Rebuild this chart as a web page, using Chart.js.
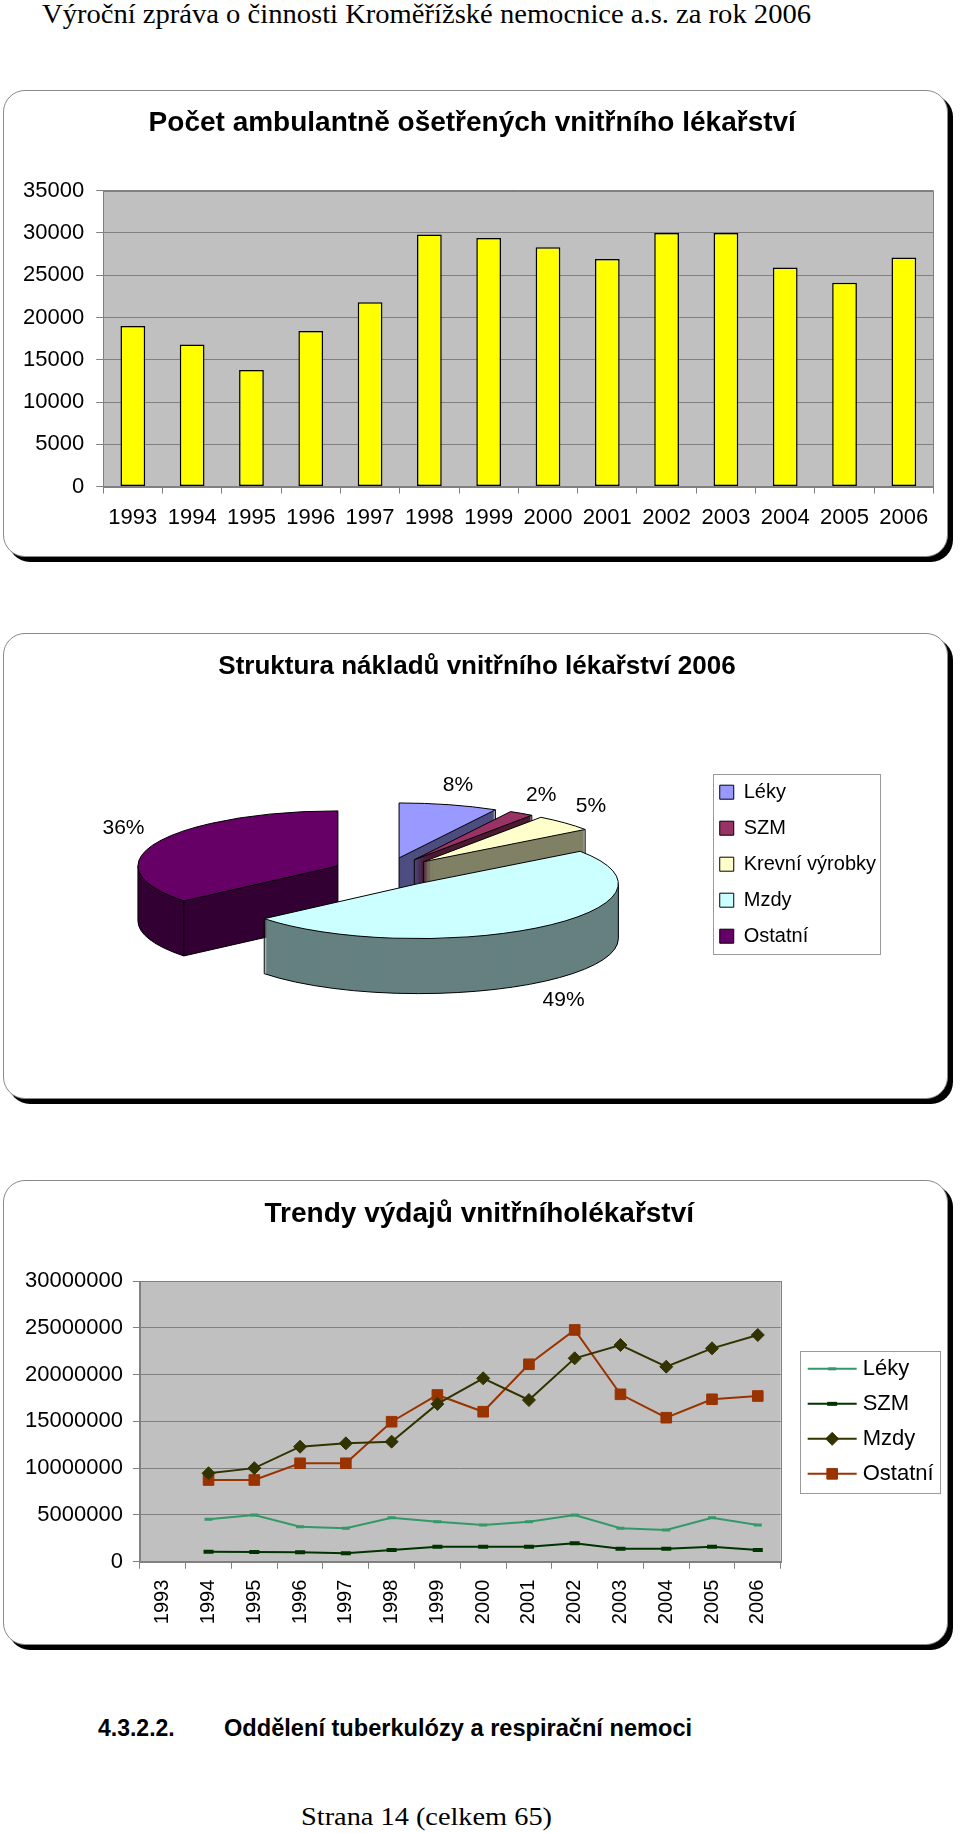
<!DOCTYPE html>
<html lang="cs">
<head>
<meta charset="utf-8">
<title>Vnitřní lékařství 2006</title>
<script src="https://cdn.jsdelivr.net/npm/chart.js@4.4.1/dist/chart.umd.min.js"></script>
<style>
  html, body { margin: 0; padding: 0; background: #fff; }
  body { position: relative; width: 960px; height: 1833px; overflow: hidden; }
  .txt { position: absolute; white-space: nowrap; line-height: 1; color: #000; transform-origin: 0 0; }
  .serif { font-family: "Liberation Serif", "Times New Roman", serif; }
  .bold { font-family: "Liberation Sans", Arial, sans-serif; font-weight: bold; }
  .panel { position: absolute; left: 3px; width: 943px; background: #fff;
           border: 1px solid #8a8a8a; border-radius: 22px; box-shadow: 5px 5px 0 #000; }
  .panel canvas { position: absolute; left: 0; top: 0; }
</style>
</head>
<body>
<div class="txt serif" data-fit="769" style="left:42px; top:1px; font-size:27px;">Výroční zpráva o činnosti Kroměřížské nemocnice a.s. za rok 2006</div>

<div class="panel" style="top:90px; height:465px;"><canvas id="visitsChart" width="943" height="465"></canvas></div>
<div class="panel" style="top:633px; height:464px;"><canvas id="costChart" width="943" height="464"></canvas></div>
<div class="panel" style="top:1180px; height:463px;"><canvas id="trendChart" width="943" height="463"></canvas></div>

<div class="txt bold" style="left:98px; top:1717px; font-size:23px;">4.3.2.2.</div>
<div class="txt bold" style="left:224px; top:1717px; font-size:23.6px;">Oddělení tuberkulózy a respirační nemoci</div>
<div class="txt serif" data-fit="251" style="left:301px; top:1804px; font-size:26px;">Strana 14 (celkem 65)</div>

<script>
// --- data ---
const years = ['1993', '1994', '1995', '1996', '1997', '1998', '1999',
               '2000', '2001', '2002', '2003', '2004', '2005', '2006'];

// patients treated (ambulance), per year
const patientCounts = [19000, 16800, 13800, 18400, 21800, 29800, 29400,
                       28300, 26900, 30000, 30000, 25900, 24100, 27100];

// cost structure 2006, percent
const costLabels = ['Léky', 'SZM', 'Krevní výrobky', 'Mzdy', 'Ostatní'];
const costShares = [8, 2, 5, 49, 36];

// expense trends (no value for 1993)
const trendLeky    = [null, 4530000, 4990000, 3740000, 3570000, 4700000, 4280000,
                      3920000, 4280000, 4990000, 3570000, 3390000, 4700000, 3920000];
const trendSzm     = [null, 1070000, 1040000, 1000000, 900000, 1250000, 1600000,
                      1600000, 1600000, 1970000, 1390000, 1390000, 1600000, 1250000];
const trendMzdy    = [null, 9450000, 10000000, 12290000, 12650000, 12830000, 16860000,
                      19600000, 17280000, 21740000, 23160000, 20840000, 22800000, 24230000];
const trendOstatni = [null, 8730000, 8730000, 10520000, 10520000, 14960000, 17820000,
                      16030000, 21100000, 24770000, 17890000, 15390000, 17360000, 17710000];

const SANS = '"Liberation Sans", Arial, sans-serif';
const gridGray = '#808080';
const plotGray = '#c0c0c0';

Chart.defaults.font.family = SANS;
Chart.defaults.color = '#000';

// grey plot area like the Excel charts
const plotArea = {
  id: 'plotArea',
  beforeDraw(chart, args, opts) {
    const { ctx, chartArea: a } = chart;
    ctx.save();
    ctx.fillStyle = opts.color;
    ctx.fillRect(a.left, a.top, a.width, a.height);
    ctx.strokeStyle = gridGray;
    ctx.lineWidth = 1;
    ctx.strokeRect(Math.round(a.left) + 0.5, Math.round(a.top) + 0.5,
                   Math.round(a.width), Math.round(a.height));
    ctx.restore();
  }
};

// frame round the legend, optional line+marker samples
const legendFrame = {
  id: 'legendFrame',
  afterDraw(chart, args, opts) {
    const lg = chart.legend;
    if (!lg || !lg.legendHitBoxes || !lg.legendHitBoxes.length) return;
    const hb = lg.legendHitBoxes;
    const ctx = chart.ctx;
    const first = hb[0], last = hb[hb.length - 1];
    let right = 0;
    hb.forEach(h => { right = Math.max(right, h.left + h.width); });
    const left = first.left - opts.padLeft;
    const top = first.top + first.height / 2 - opts.padTop;
    const bottom = last.top + last.height / 2 + opts.padBottom;
    ctx.save();
    ctx.strokeStyle = '#9a9a9a';
    ctx.lineWidth = 1;
    ctx.strokeRect(Math.round(left) + 0.5, Math.round(top) + 0.5,
                   Math.round(right + opts.padRight - left), Math.round(bottom - top));

    if (opts.samples) {
      hb.forEach((h, i) => {
        const ds = chart.data.datasets[i];
        const y = h.top + h.height / 2;
        const x0 = h.left + 14, x1 = h.left + 63;
        ctx.strokeStyle = ds.borderColor;
        ctx.lineWidth = ds.borderWidth;
        ctx.beginPath();
        ctx.moveTo(x0, y);
        ctx.lineTo(x1, y);
        ctx.stroke();
        ctx.fillStyle = ds.pointBackgroundColor;
        ctx.strokeStyle = ds.pointBorderColor;
        ctx.lineWidth = ds.pointBorderWidth;
        Chart.helpers.drawPoint(ctx, {
          pointStyle: ds.pointStyle, radius: ds.pointRadius,
          borderWidth: ds.pointBorderWidth, rotation: 0
        }, (x0 + x1) / 2, y);
      });
    }
    ctx.restore();
  }
};

// flat tilted pie with depth and exploded slices
const pie3d = {
  id: 'pie3d',
  beforeDatasetsDraw(chart, args, opts) {
    const meta = chart.getDatasetMeta(0);
    const ds = chart.data.datasets[0];
    const ctx = chart.ctx;
    const tilt = opts.tilt, depth = opts.depth;
    const arcs = meta.data.map((el, i) => {
      const p = el.getProps(['x', 'y', 'startAngle', 'endAngle', 'outerRadius'], true);
      const mid = (p.startAngle + p.endAngle) / 2;
      return { i, p, mid,
               cx: p.x + Math.cos(mid) * opts.explode,
               cy: p.y + Math.sin(mid) * opts.explode * tilt };
    });
    const order = arcs.slice().sort((a, b) => a.cy - b.cy);

    function wedge(a, dy) {
      ctx.beginPath();
      ctx.save();
      ctx.translate(a.cx, a.cy + dy);
      ctx.scale(1, tilt);
      ctx.moveTo(0, 0);
      ctx.arc(0, 0, a.p.outerRadius, a.p.startAngle, a.p.endAngle);
      ctx.closePath();
      ctx.restore();
    }
    function inside(a, ang) {
      let t = ang;
      while (t < a.p.startAngle) t += Math.PI * 2;
      return t <= a.p.endAngle;
    }
    function line(p, q) {
      ctx.beginPath();
      ctx.moveTo(p[0], p[1]);
      ctx.lineTo(q[0], q[1]);
      ctx.stroke();
    }

    ctx.save();
    ctx.lineWidth = 1;
    ctx.strokeStyle = '#000';
    ctx.lineJoin = 'round';
    order.forEach(a => {
      const s = a.p.startAngle, e = a.p.endAngle, r = a.p.outerRadius;
      const pt = (ang, dy) => [a.cx + Math.cos(ang) * r, a.cy + Math.sin(ang) * r * tilt + dy];

      ctx.fillStyle = opts.sideColors[a.i];
      for (let d = depth; d > 0; d--) { wedge(a, d); ctx.fill(); }

      // visible part of the lower rim
      for (let k = -1; k <= 1; k++) {
        const lo = Math.max(s, 2 * Math.PI * k), hi = Math.min(e, 2 * Math.PI * k + Math.PI);
        if (hi > lo) {
          ctx.beginPath();
          ctx.save();
          ctx.translate(a.cx, a.cy + depth);
          ctx.scale(1, tilt);
          ctx.arc(0, 0, r, lo, hi);
          ctx.restore();
          ctx.stroke();
        }
      }
      // cut faces turned to the viewer
      const startFace = Math.sin(s - Math.PI / 2) > 0.01;
      const endFace = Math.sin(e + Math.PI / 2) > 0.01;
      const c0 = [a.cx, a.cy], c1 = [a.cx, a.cy + depth];
      if (startFace) line(c1, pt(s, depth));
      if (endFace) line(c1, pt(e, depth));
      if (startFace || endFace) line(c0, c1);
      if (startFace || Math.sin(s) > 0) line(pt(s, 0), pt(s, depth));
      if (endFace || Math.sin(e) > 0) line(pt(e, 0), pt(e, depth));
      [0, Math.PI].forEach(ang => { if (inside(a, ang)) line(pt(ang, 0), pt(ang, depth)); });
    });
    order.forEach(a => {
      wedge(a, 0);
      ctx.fillStyle = ds.backgroundColor[a.i];
      ctx.fill();
      ctx.stroke();
    });
    ctx.restore();
    return false;
  },
  afterDraw(chart, args, opts) {
    const meta = chart.getDatasetMeta(0);
    const ds = chart.data.datasets[0];
    const ctx = chart.ctx;
    ctx.save();
    ctx.font = '21px ' + SANS;
    ctx.fillStyle = '#000';
    ctx.textAlign = 'center';
    ctx.textBaseline = 'middle';
    meta.data.forEach((el, i) => {
      const p = el.getProps(['x', 'y', 'startAngle', 'endAngle'], true);
      const mid = (p.startAngle + p.endAngle) / 2;
      const s = Math.sin(mid), c = Math.cos(mid);
      const x = p.x + c * opts.labelRadius;
      const y = p.y + s * opts.labelRadius * opts.tilt + (s > 0 ? opts.depth + 10 : -10);
      ctx.fillText(ds.data[i] + '%', x, y);
    });
    ctx.restore();
  }
};

// --- chart 1: patients ---
new Chart(document.getElementById('visitsChart'), {
  type: 'bar',
  data: {
    labels: years,
    datasets: [{
      data: patientCounts,
      backgroundColor: '#ffff00',
      borderColor: '#000',
      borderWidth: 1.5,
      borderSkipped: false,
      barPercentage: 0.417,
      categoryPercentage: 1
    }]
  },
  options: {
    responsive: false,
    animation: false,
    devicePixelRatio: 1,
    layout: { padding: { left: 7, right: 13.5, top: 0, bottom: 14 } },
    plugins: {
      legend: { display: false },
      tooltip: { enabled: false },
      title: {
        display: true,
        text: 'Počet ambulantně ošetřených vnitřního lékařství',
        color: '#000',
        font: { size: 28, weight: 'bold' },
        padding: { top: 15, bottom: 51 }
      },
      plotArea: { color: plotGray }
    },
    scales: {
      x: {
        grid: { drawOnChartArea: false, tickLength: 7, color: gridGray, offset: true },
        border: { color: gridGray },
        ticks: { font: { size: 22 }, padding: 11, maxRotation: 0, autoSkip: false }
      },
      y: {
        min: 0,
        max: 35000,
        grid: { color: gridGray, tickLength: 7 },
        border: { color: gridGray },
        ticks: { stepSize: 5000, font: { size: 22 }, padding: 12, callback: v => String(v) }
      }
    }
  },
  plugins: [plotArea]
});

// --- chart 2: cost structure ---
new Chart(document.getElementById('costChart'), {
  type: 'pie',
  data: {
    labels: costLabels,
    datasets: [{
      data: costShares,
      backgroundColor: ['#9999ff', '#993366', '#ffffcc', '#ccffff', '#660066'],
      borderColor: '#000',
      borderWidth: 1,
      radius: 200
    }]
  },
  options: {
    responsive: false,
    animation: false,
    devicePixelRatio: 1,
    layout: { padding: { left: 64, right: 61, top: 0, bottom: 120 } },
    plugins: {
      tooltip: { enabled: false },
      title: {
        display: true,
        text: 'Struktura nákladů vnitřního lékařství 2006',
        color: '#000',
        font: { size: 26, weight: 'bold' },
        padding: { top: 17, bottom: 84 }
      },
      legend: {
        position: 'right',
        align: 'start',
        fullSize: false,
        labels: { boxWidth: 14, boxHeight: 14, padding: 16, color: '#000', font: { size: 20 } }
      },
      legendFrame: { padLeft: 7, padRight: 4, padTop: 18.3, padBottom: 17.7, samples: false },
      pie3d: {
        tilt: 0.275,
        depth: 55,
        explode: 53,
        labelRadius: 290,
        sideColors: ['#4d4d80', '#4d1a33', '#808066', '#668080', '#330033']
      }
    }
  },
  plugins: [pie3d, legendFrame]
});

// --- chart 3: expense trends ---
new Chart(document.getElementById('trendChart'), {
  type: 'line',
  data: {
    labels: years,
    datasets: [
      { label: 'Léky', data: trendLeky, borderColor: '#339966', borderWidth: 2,
        pointStyle: 'line', pointRadius: 4, pointBorderWidth: 3,
        pointBorderColor: '#339966', pointBackgroundColor: '#339966' },
      { label: 'SZM', data: trendSzm, borderColor: '#003300', borderWidth: 2,
        pointStyle: 'line', pointRadius: 5, pointBorderWidth: 4,
        pointBorderColor: '#003300', pointBackgroundColor: '#003300' },
      { label: 'Mzdy', data: trendMzdy, borderColor: '#333300', borderWidth: 2,
        pointStyle: 'rectRot', pointRadius: 6.5, pointBorderWidth: 1,
        pointBorderColor: '#333300', pointBackgroundColor: '#333300' },
      { label: 'Ostatní', data: trendOstatni, borderColor: '#993300', borderWidth: 2,
        pointStyle: 'rect', pointRadius: 7.5, pointBorderWidth: 1,
        pointBorderColor: '#993300', pointBackgroundColor: '#993300' }
    ]
  },
  options: {
    responsive: false,
    animation: false,
    devicePixelRatio: 1,
    layout: { padding: { left: 11, right: 3.4, top: 0, bottom: 8.8 } },
    elements: { line: { tension: 0 } },
    plugins: {
      tooltip: { enabled: false },
      title: {
        display: true,
        text: 'Trendy výdajů vnitřníholékařství',
        color: '#000',
        font: { size: 28, weight: 'bold' },
        padding: { top: 16, bottom: 50.4 }
      },
      legend: {
        position: 'right',
        align: 'center',
        fullSize: false,
        labels: {
          boxWidth: 58, boxHeight: 10, padding: 13, color: '#000', font: { size: 22 },
          generateLabels: chart => chart.data.datasets.map((ds, i) => ({
            text: ds.label, datasetIndex: i, hidden: false,
            fillStyle: 'rgba(0,0,0,0)', strokeStyle: 'rgba(0,0,0,0)', lineWidth: 0,
            fontColor: '#000'
          }))
        }
      },
      legendFrame: { padLeft: -6, padRight: 6, padTop: 18.3, padBottom: 19, samples: true },
      plotArea: { color: plotGray }
    },
    scales: {
      x: {
        offset: true,
        grid: { drawOnChartArea: false, tickLength: 7, color: gridGray, offset: true },
        border: { color: gridGray },
        ticks: { font: { size: 20 }, padding: 11, minRotation: 90, maxRotation: 90, autoSkip: false }
      },
      y: {
        min: 0,
        max: 30000000,
        grid: { color: gridGray, tickLength: 7 },
        border: { color: gridGray },
        ticks: { stepSize: 5000000, font: { size: 22 }, padding: 10, callback: v => String(v) }
      }
    }
  },
  plugins: [plotArea, legendFrame]
});

// page header/footer lines are set a bit wider in the report
document.querySelectorAll('[data-fit]').forEach(el => {
  const target = Number(el.dataset.fit);
  el.style.transform = 'scaleX(' + (target / el.getBoundingClientRect().width) + ')';
});
</script>
</body>
</html>
